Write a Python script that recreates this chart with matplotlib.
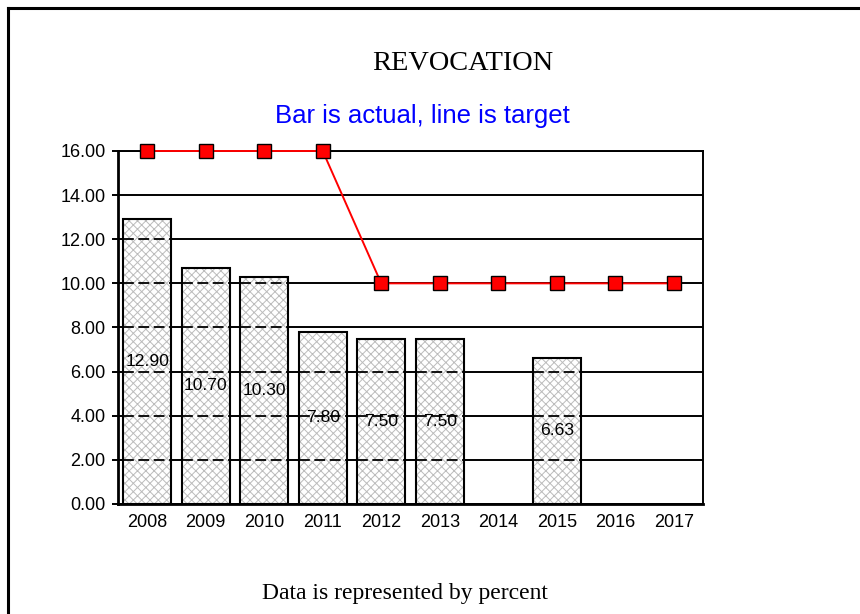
import numpy as np
import matplotlib
matplotlib.use('Agg')
from matplotlib import pyplot as plt
from matplotlib.lines import Line2D

# chart data
years = ['2008', '2009', '2010', '2011', '2012', '2013', '2014', '2015', '2016', '2017']
actual = [12.90, 10.70, 10.30, 7.80, 7.50, 7.50, np.nan, 6.63, np.nan, np.nan]
target = [16, 16, 16, 16, 10, 10, 10, 10, 10, 10]
y_ticks = [0, 2, 4, 6, 8, 10, 12, 14, 16]

plt.rcParams['font.family'] = ['Liberation Sans', 'DejaVu Sans']
plt.rcParams['hatch.linewidth'] = 0.7

fig = plt.figure(figsize=(8.6, 6.14), dpi=100)
ax = fig.add_axes([0.1372, 0.1792, 0.6802, 0.5749])

x = np.arange(len(years))
bar_w = 0.82

# horizontal grid behind the bars
for v in y_ticks:
    ax.axhline(v, color='black', lw=1.4, zorder=1)

# light grey cross hatch, then black outline on top
ax.bar(x, actual, width=bar_w, facecolor='white', edgecolor='#bcbcbc',
       linewidth=0, hatch='xxxx', zorder=2)
ax.bar(x, actual, width=bar_w, facecolor='none', edgecolor='black',
       linewidth=1.5, zorder=3)

# grid shows through the bars as dashes
for i, v in enumerate(actual):
    if np.isnan(v):
        continue
    for g in y_ticks[1:]:
        if g < v:
            ax.plot([i - bar_w / 2, i + bar_w / 2], [g, g], color='black',
                    lw=1.3, ls=(0, (6, 2.5)), zorder=3)
    ax.text(i, v / 2, '%.2f' % v, ha='center', va='center', fontsize=12.6, zorder=4)

ax.plot(x, target, color='red', lw=1.4, marker='s', markersize=10.2,
        markerfacecolor='red', markeredgecolor='black', markeredgewidth=1.0,
        zorder=5, clip_on=False)

ax.set_xlim(-0.5, len(years) - 0.5)
ax.set_ylim(0, 16)
ax.set_xticks(x)
ax.set_xticklabels(years, fontsize=13)
ax.set_yticks(y_ticks)
ax.set_yticklabels(['%.2f' % v for v in y_ticks], fontsize=13)
ax.tick_params(axis='x', length=0, pad=7)
ax.tick_params(axis='y', length=4, width=1.4, direction='out', pad=5)
for s in ax.spines.values():
    s.set_linewidth(1.4)
ax.spines['left'].set_linewidth(2)
ax.spines['bottom'].set_linewidth(2)

# titles and footnote
fig.text(463 / 860, 1 - 64 / 614, 'REVOCATION', ha='center', va='center',
         fontsize=20.4, family='Liberation Serif')
fig.text(422 / 860, 1 - 116 / 614, 'Bar is actual, line is target', ha='center',
         va='center', fontsize=18.5, color='#0000ff')
fig.text(405 / 860, 1 - 594 / 614, 'Data is represented by percent', ha='center',
         va='center', fontsize=17, family='Liberation Serif')

# slide frame (left and top edges)
fig.add_artist(Line2D([8 / 860, 8 / 860], [0, 1 - 8 / 614], color='black', lw=2.2,
                      transform=fig.transFigure))
fig.add_artist(Line2D([8 / 860, 1], [1 - 8 / 614, 1 - 8 / 614], color='black', lw=2.2,
                      transform=fig.transFigure))

fig.savefig('out.png', dpi=100)
